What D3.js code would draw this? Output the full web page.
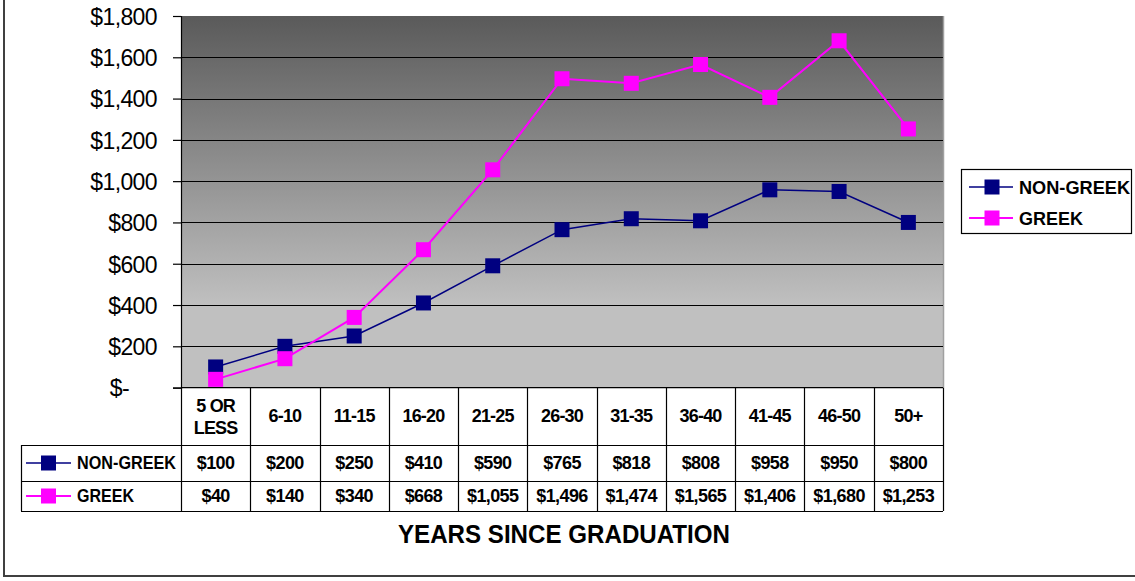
<!DOCTYPE html>
<html>
<head>
<meta charset="utf-8">
<script src="https://cdn.jsdelivr.net/npm/d3@7"></script>
<style>
  html, body { margin: 0; padding: 0; background: #fff; }
  svg { display: block; font-family: "Liberation Sans", Arial, sans-serif; }
</style>
</head>
<body>
<svg id="chart" width="1135" height="581"></svg>
<script>
// Average giving by years since graduation
const categories = ["5 OR LESS", "6-10", "11-15", "16-20", "21-25", "26-30", "31-35", "36-40", "41-45", "46-50", "50+"];
const nonGreek = [100, 200, 250, 410, 590, 765, 818, 808, 958, 950, 800];
const greek = [40, 140, 340, 668, 1055, 1496, 1474, 1565, 1406, 1680, 1253];
const yTicks = [0, 200, 400, 600, 800, 1000, 1200, 1400, 1600, 1800];
const seriesNames = ["NON-GREEK", "GREEK"];
const seriesColors = ["#000080", "#ff00ff"];
const axisTitle = "YEARS SINCE GRADUATION";

const series = [
  { name: seriesNames[0], values: nonGreek, color: seriesColors[0], width: 1.5 },
  { name: seriesNames[1], values: greek, color: seriesColors[1], width: 2 }
];

const svg = d3.select("#chart");
const plot = { left: 181, top: 16, right: 943, bottom: 387.6 };

const x = d3.scaleBand().domain(categories).range([plot.left, plot.right]).padding(0);
const y = d3.scaleLinear().domain([0, 1800]).range([plot.bottom, plot.top]);
const cx = d => x(d) + x.bandwidth() / 2;

// outer frame
svg.append("rect")
  .attr("x", 4).attr("y", -10).attr("width", 1145).attr("height", 586)
  .attr("fill", "none").attr("stroke", "#404040").attr("stroke-width", 2);

// plot background gradient
const defs = svg.append("defs");
const grad = defs.append("linearGradient").attr("id", "bg")
  .attr("x1", 0).attr("y1", 0).attr("x2", 0).attr("y2", 1);
grad.append("stop").attr("offset", "0%").attr("stop-color", "#5a5a5a");
grad.append("stop").attr("offset", "78%").attr("stop-color", "#c0c0c0");
grad.append("stop").attr("offset", "100%").attr("stop-color", "#c0c0c0");

svg.append("rect")
  .attr("x", plot.left).attr("y", plot.top)
  .attr("width", plot.right - plot.left).attr("height", plot.bottom - plot.top)
  .attr("fill", "url(#bg)");

// right edge shade
svg.append("line")
  .attr("x1", plot.right + 0.5).attr("x2", plot.right + 0.5)
  .attr("y1", plot.top).attr("y2", plot.bottom)
  .attr("stroke", "#a0a0a0").attr("stroke-width", 1.5);

// gridlines
svg.append("g").selectAll("line")
  .data(yTicks.filter(t => t > 0 && t < 1800))
  .join("line")
  .attr("x1", plot.left).attr("x2", plot.right)
  .attr("y1", d => Math.round(y(d)) + 0.5).attr("y2", d => Math.round(y(d)) + 0.5)
  .attr("stroke", "#000").attr("stroke-width", 1.2);

// y axis
const fmt = d3.format(",");
const yAxis = d3.axisLeft(y).tickValues(yTicks).tickSize(8).tickPadding(18)
  .tickFormat(d => d === 0 ? "$-" : "$" + fmt(d));
const ya = svg.append("g").attr("transform", `translate(${plot.left},0)`).call(yAxis);
ya.select(".domain").attr("stroke", "#000").attr("stroke-width", 1.2);
ya.selectAll(".tick line").attr("stroke", "#000").attr("stroke-width", 1.2);
ya.selectAll(".tick text")
  .attr("font-size", 23).attr("fill", "#000")
  .attr("font-family", "'Liberation Sans', Arial, sans-serif")
  .attr("letter-spacing", -0.6)
  .attr("dy", "0.36em")
  .attr("x", d => d === 0 ? -52 : -24);

// data table
const tbl = svg.append("g").attr("stroke", "#000").attr("stroke-width", 1.2);
const rowY = [plot.bottom, 445, 481, 511];
const tableLeft = 21;
// horizontal rules
tbl.append("line").attr("x1", plot.left).attr("x2", plot.right).attr("y1", plot.bottom).attr("y2", plot.bottom);
[445, 481, 511].forEach(v => {
  tbl.append("line").attr("x1", tableLeft).attr("x2", plot.right).attr("y1", v + 0.5).attr("y2", v + 0.5);
});
// vertical rules
tbl.append("line").attr("x1", tableLeft + 0.5).attr("x2", tableLeft + 0.5).attr("y1", 445).attr("y2", 511);
const bounds = categories.map(c => x(c)).concat([plot.right]);
tbl.selectAll("line.v").data(bounds).join("line").attr("class", "v")
  .attr("x1", d => Math.round(d) + 0.5).attr("x2", d => Math.round(d) + 0.5)
  .attr("y1", plot.bottom).attr("y2", 511);

// category header
const hdr = svg.append("g").attr("font-size", 18).attr("font-weight", "bold")
  .attr("text-anchor", "middle").attr("fill", "#000");
categories.forEach(c => {
  const parts = c === "5 OR LESS" ? ["5 OR", "LESS"] : [c];
  const t = hdr.append("text").attr("x", cx(c)).attr("y", 416).attr("letter-spacing", -0.8);
  parts.forEach((p, i) => {
    t.append("tspan").attr("x", cx(c))
      .attr("dy", parts.length === 1 ? "0.36em" : (i === 0 ? "-0.25em" : "1.25em"))
      .text(p);
  });
});

// table rows with series values
const rowCenters = [463, 496];
series.forEach((s, i) => {
  const g = svg.append("g");
  g.append("line").attr("x1", 26).attr("x2", 71)
    .attr("y1", rowCenters[i]).attr("y2", rowCenters[i])
    .attr("stroke", s.color).attr("stroke-width", s.width);
  g.append("rect").attr("x", 41).attr("y", rowCenters[i] - 7.5)
    .attr("width", 15).attr("height", 15).attr("fill", s.color);
  g.append("text").attr("x", 77).attr("y", rowCenters[i]).attr("dy", "0.36em")
    .attr("font-size", 18).attr("font-weight", "bold")
    .attr("textLength", i === 0 ? 99 : 57).attr("lengthAdjust", "spacingAndGlyphs")
    .text(s.name);
  g.selectAll("text.v").data(s.values).join("text").attr("class", "v")
    .attr("x", (d, j) => cx(categories[j])).attr("y", rowCenters[i]).attr("dy", "0.36em")
    .attr("text-anchor", "middle").attr("font-size", 18).attr("font-weight", "bold")
    .attr("letter-spacing", -0.6)
    .text(d => "$" + fmt(d));
});

// series lines and markers
const line = d3.line().x((d, j) => cx(categories[j])).y(d => y(d));
series.forEach(s => {
  svg.append("path").datum(s.values)
    .attr("d", line).attr("fill", "none")
    .attr("stroke", s.color).attr("stroke-width", s.width);
  svg.append("g").selectAll("rect").data(s.values).join("rect")
    .attr("x", (d, j) => cx(categories[j]) - 7.5).attr("y", d => y(d) - 7.5)
    .attr("width", 15).attr("height", 15).attr("fill", s.color);
});

// legend
const lg = svg.append("g");
lg.append("rect").attr("x", 961.5).attr("y", 169.5).attr("width", 170).attr("height", 64)
  .attr("fill", "#fff").attr("stroke", "#000").attr("stroke-width", 1.2);
const legY = [187, 218];
series.forEach((s, i) => {
  lg.append("line").attr("x1", 969).attr("x2", 1013)
    .attr("y1", legY[i]).attr("y2", legY[i])
    .attr("stroke", s.color).attr("stroke-width", s.width);
  lg.append("rect").attr("x", 984.5).attr("y", legY[i] - 7.5)
    .attr("width", 15).attr("height", 15).attr("fill", s.color);
  lg.append("text").attr("x", 1019).attr("y", legY[i]).attr("dy", "0.36em")
    .attr("font-size", 19).attr("font-weight", "bold")
    .attr("textLength", i === 0 ? 111 : 64).attr("lengthAdjust", "spacingAndGlyphs")
    .text(s.name);
});

// x axis title
svg.append("text").attr("x", 564).attr("y", 543)
  .attr("text-anchor", "middle").attr("font-size", 26).attr("font-weight", "bold")
  .attr("textLength", 332).attr("lengthAdjust", "spacingAndGlyphs")
  .text(axisTitle);
</script>
</body>
</html>
